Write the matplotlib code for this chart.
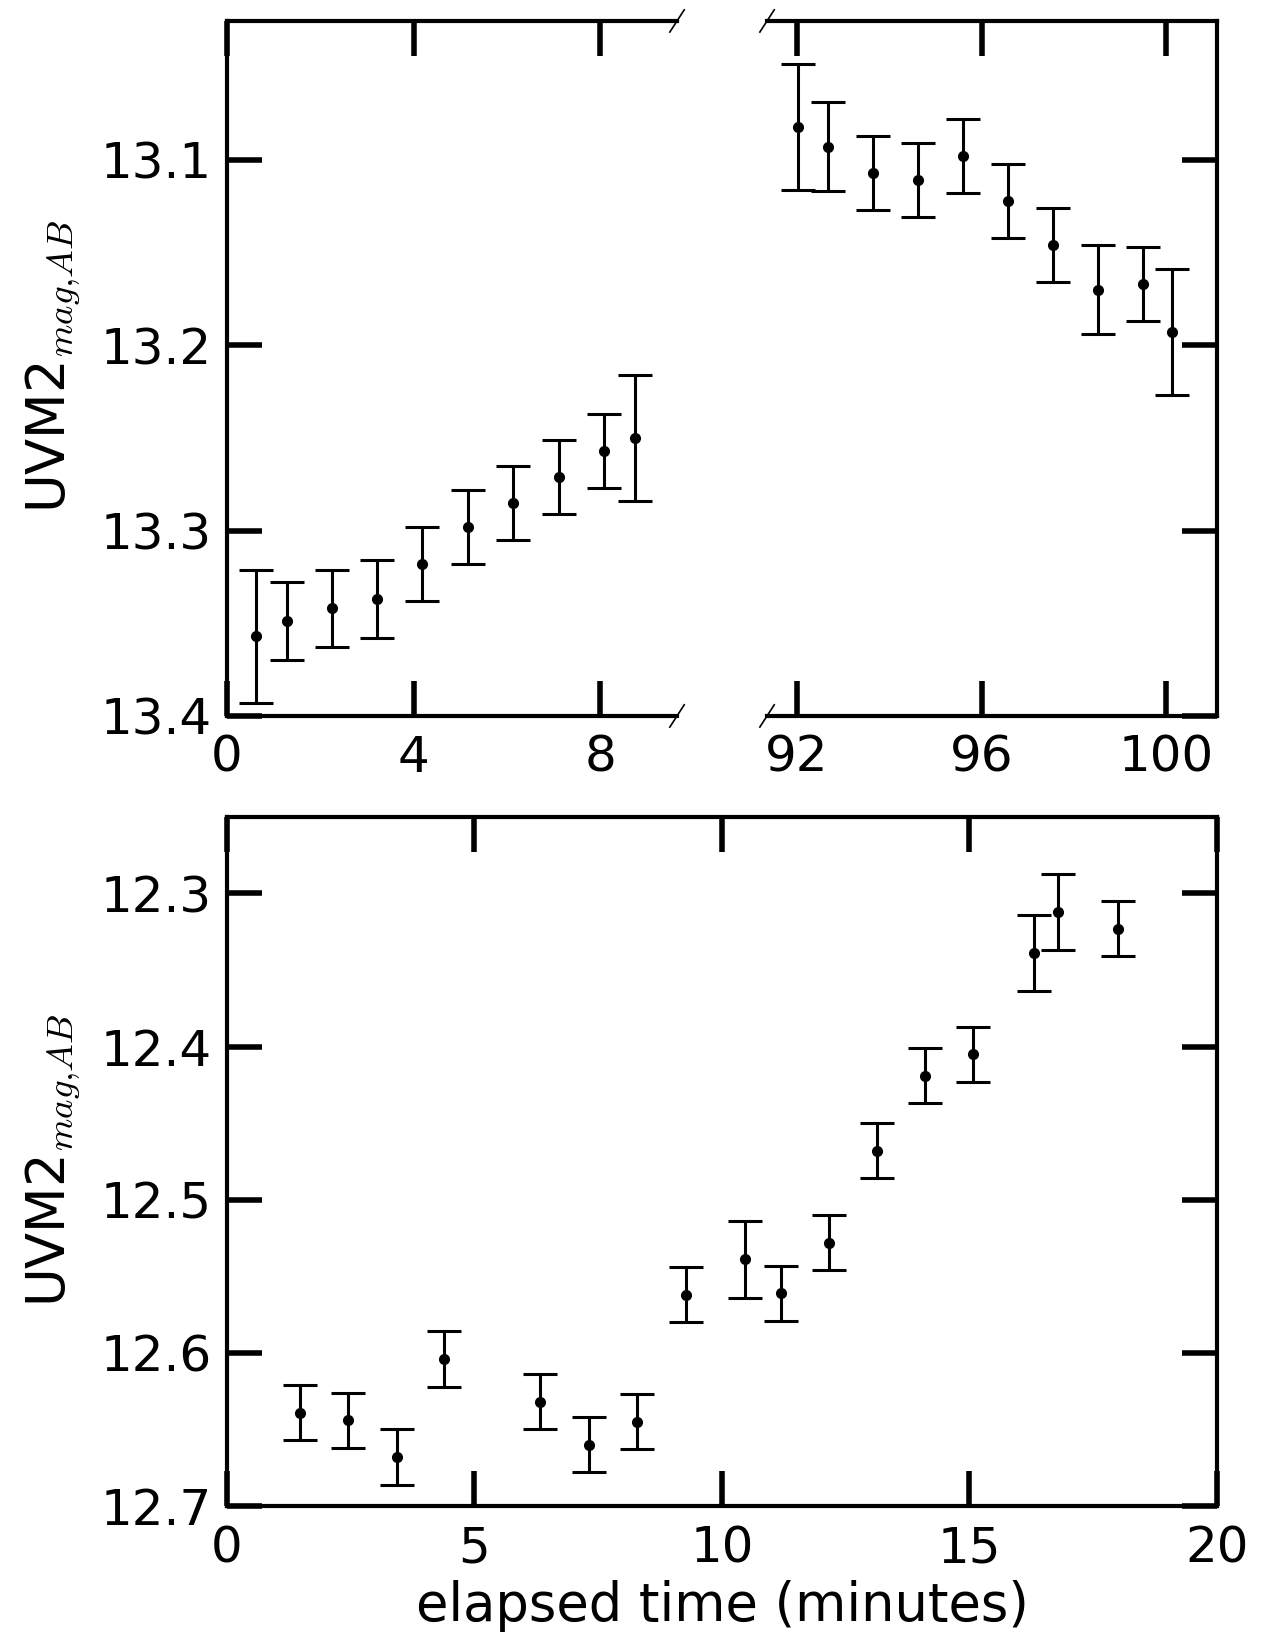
import numpy as np
import matplotlib
matplotlib.use("Agg")
import matplotlib.pyplot as plt

plt.rcParams['mathtext.fontset'] = 'cm'
plt.rcParams['font.family'] = ['DejaVu Sans']

# top panel, first visit (minutes)
t1 = [0.62, 1.28, 2.25, 3.22, 4.19, 5.17, 6.14, 7.11, 8.09, 8.74]
m1 = [13.357, 13.349, 13.342, 13.337, 13.318, 13.298, 13.285, 13.271, 13.257, 13.250]
e1 = [0.036, 0.021, 0.021, 0.021, 0.020, 0.020, 0.020, 0.020, 0.020, 0.034]

# top panel, second visit
t2 = [92.03, 92.68, 93.65, 94.63, 95.60, 96.58, 97.54, 98.51, 99.50, 100.13]
m2 = [13.082, 13.093, 13.107, 13.111, 13.098, 13.122, 13.146, 13.170, 13.167, 13.193]
e2 = [0.034, 0.024, 0.020, 0.020, 0.020, 0.020, 0.020, 0.024, 0.020, 0.034]

# bottom panel
t3 = [1.48, 2.44, 3.43, 4.39, 6.33, 7.31, 8.28, 9.27, 10.46, 11.19, 12.17,
      13.14, 14.11, 15.08, 16.30, 16.79, 18.01]
m3 = [12.639, 12.644, 12.668, 12.604, 12.632, 12.660, 12.645, 12.562, 12.539,
      12.561, 12.528, 12.468, 12.419, 12.405, 12.339, 12.312, 12.323]
e3 = [0.018, 0.018, 0.018, 0.018, 0.018, 0.018, 0.018, 0.018, 0.025, 0.018,
      0.018, 0.018, 0.018, 0.018, 0.025, 0.025, 0.018]

ylab = r'UVM2$_{mag{,}AB}$'
fs = 36
lfs = 38

fig = plt.figure(figsize=(12.75, 16.5), dpi=100)
axl = fig.add_axes([0.178, 0.5661, 0.353, 0.4212])
axr = fig.add_axes([0.6016, 0.5661, 0.353, 0.4212])
axb = fig.add_axes([0.178, 0.0873, 0.7765, 0.4176])

eb = dict(fmt='o', color='k', ms=7, elinewidth=2.2, capsize=12.5, capthick=2.2)
axl.errorbar(t1, m1, yerr=e1, **eb)
axr.errorbar(t2, m2, yerr=e2, **eb)
axb.errorbar(t3, m3, yerr=e3, **eb)

for ax in (axl, axr, axb):
    for s in ax.spines.values():
        s.set_linewidth(3)
    ax.tick_params(direction='in', length=25, width=4, labelsize=fs)
    ax.tick_params(axis='x', pad=13)
    ax.tick_params(axis='y', pad=11)

axl.set_xlim(0, 9.65)
axr.set_xlim(91.35, 101.1)
for ax in (axl, axr):
    ax.set_ylim(13.4, 13.025)
    ax.set_yticks([13.1, 13.2, 13.3, 13.4])
axl.set_xticks([0, 4, 8])
axr.set_xticks([92, 96, 100])

axl.spines['right'].set_visible(False)
axr.spines['left'].set_visible(False)
axl.tick_params(top=True, right=False)
axr.tick_params(top=True, left=False, right=True, labelleft=False)

axb.set_xlim(0, 20)
axb.set_ylim(12.7, 12.25)
axb.set_xticks([0, 5, 10, 15, 20])
axb.set_yticks([12.3, 12.4, 12.5, 12.6, 12.7])
axb.tick_params(top=True, right=True)

# break marks
d = 0.016
kw = dict(color='k', lw=1.2, clip_on=False)
for y in (0, 1):
    axl.plot([1 - d, 1 + d], [y - d, y + d], transform=axl.transAxes, **kw)
    axr.plot([-d, d], [y - d, y + d], transform=axr.transAxes, **kw)

fig.text(0.042, 0.778, ylab, rotation=90, ha='center', va='center', fontsize=lfs)
fig.text(0.042, 0.297, ylab, rotation=90, ha='center', va='center', fontsize=lfs)
axb.set_xlabel('elapsed time (minutes)', fontsize=lfs, labelpad=6)

fig.savefig('out.png', dpi=100)
